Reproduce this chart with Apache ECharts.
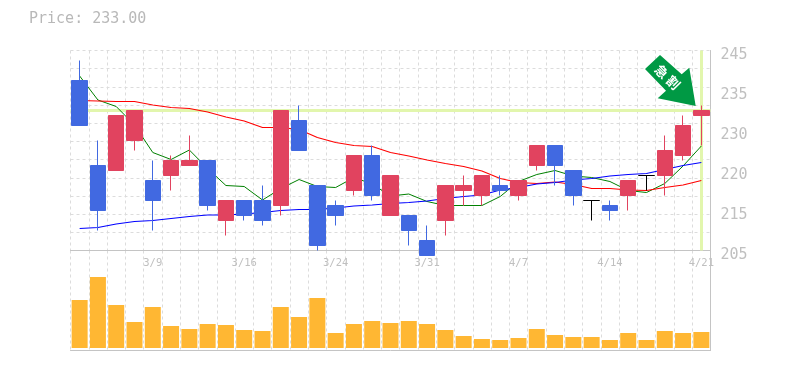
<!DOCTYPE html>
<html><head><meta charset="utf-8">
<style>html,body{margin:0;padding:0;background:#fff}#c{width:785px;height:370px}</style>
<script src="https://cdn.jsdelivr.net/npm/echarts@6/dist/echarts.min.js"></script>
</head><body><div id="c"></div>
<script>
const categories=['3/3','3/4','3/7','3/8','3/9','3/10','3/11','3/14','3/15','3/16','3/17','3/18','3/22','3/23','3/24','3/25','3/28','3/29','3/30','3/31','4/1','4/4','4/5','4/6','4/7','4/8','4/11','4/12','4/13','4/14','4/15','4/18','4/19','4/20','4/21'];
const opens=[239,222,221,227,219,220,222,223,211,215,215,214,231,218,214,217,224,212,212,207,211,217,216,218,216,222,226,221,215,214,216,220,220,224,232];
const closes=[230,213,232,233,215,223,223,214,215,212,211,233,225,206,212,224,216,220,209,204,218,218,220,217,219,226,222,216,215,213,219,220,225,230,233];
const lows=[230,209,221,225,209,217,222,213,208,211,210,212,225,205,210,216,215,212,206,204,208,214,214,216,215,221,218,214,211,211,213,217,216,223,226];
const highs=[243,227,232,233,223,224,228,223,215,215,218,233,234,218,215,224,226,220,212,210,218,220,220,220,219,226,226,221,215,215,219,220,228,232,234];
const maShort=[239.9,235.1,233.8,230.1,224.6,223.2,225.1,221.4,218,217.8,215.1,217.4,219.2,217.8,217.6,219.6,218.3,215.9,216.3,214.8,214,214,214,215.8,218.8,220.2,221,219.9,219.6,218.8,217,216.6,218.4,221.9,225.9];
const maMid=[235,234.9,234.8,234.8,234.1,233.6,233.4,232.7,231.7,230.9,229.6,229.6,229.2,227.6,226.6,226,225.8,224.6,223.9,223.1,222.4,221.8,220.9,219.4,218.6,218.4,218.7,218.2,217.4,217.4,217.1,217,217.6,218.1,219];
const maLong=[209.4,209.6,210.3,210.8,211,211.4,211.8,212.1,212.1,212.3,212.6,213,213.2,213.2,213.5,213.9,214.1,214.4,214.6,214.9,215.4,215.8,216.1,217.1,217.6,218.3,218.6,219.1,219.4,219.9,220.2,220.4,221.2,222,222.6];
const volumes=[48,71,43,26,41,22,19,24,23,18,17,41,31,50,15,24,27,25,27,24,18,12,9,8,10,19,13,11,11,8,15,8,17,15,16];
const priceTicks=[205,213,221,229,237,245];
const priceLabels=['205','215','220','230','235','245'];
const lastPrice=233;
const titleText='Price: 233.00';
const arrowChars=['\u6025','\u5272'];

const MONO='"DejaVu Sans Mono",monospace';
const GRID='#dcdcdc', AXIS='#c4c4c4', TXT='#c0c0c0', LIME='#e2f6ad';
const dash={color:GRID,width:1,type:[3,3]};
const chart=echarts.init(document.getElementById('c'),null,{renderer:'canvas'});
const ohlc=opens.map((o,i)=>[o,closes[i],lows[i],highs[i]]);
const lineS=(name,data,color,z,width)=>({name,type:'line',xAxisIndex:0,yAxisIndex:0,data,symbol:'none',silent:true,z,
  lineStyle:{color,width},clip:false});
chart.setOption({
  animation:false,backgroundColor:'#fff',
  title:{text:titleText,left:24,top:7,textStyle:{fontFamily:MONO,fontSize:15,fontWeight:'normal',color:'#b8b8b8'}},
  grid:[{left:70.5,right:74.5,top:50.5,height:200},{left:70.5,right:74.5,top:250.5,height:100}],
  xAxis:[
    {type:'category',gridIndex:0,data:categories,boundaryGap:true,
     axisLine:{show:true,lineStyle:{color:AXIS,width:1}},axisTick:{show:false},
     axisLabel:{show:true,interval:i=>i%5===4,hideOverlap:false,margin:7,fontFamily:MONO,fontSize:10.5,color:TXT},
     splitLine:{show:true,interval:0,lineStyle:dash}},
    {type:'category',gridIndex:1,data:categories,boundaryGap:true,
     axisLine:{show:true,onZero:false,lineStyle:{color:AXIS,width:1}},axisTick:{show:false},axisLabel:{show:false},
     splitLine:{show:true,interval:0,lineStyle:dash}}
  ],
  yAxis:[
    {type:'value',gridIndex:0,position:'right',min:205,max:245,
     axisLine:{show:true,lineStyle:{color:AXIS,width:1}},axisTick:{show:false},splitLine:{show:false},
     axisLabel:{show:true,customValues:priceTicks,margin:10,verticalAlign:'top',lineHeight:9,fontFamily:MONO,fontSize:15,color:TXT,
       formatter:v=>priceLabels[priceTicks.indexOf(v)]}},
    {type:'value',gridIndex:0,position:'left',min:0,max:11,interval:1,
     axisLine:{show:false},axisTick:{show:false},axisLabel:{show:false},splitLine:{show:true,lineStyle:dash}},
    {type:'value',gridIndex:1,position:'right',min:-2.5,max:97.5,
     axisLine:{show:true,lineStyle:{color:AXIS,width:1}},axisTick:{show:false},axisLabel:{show:false},splitLine:{show:false}}
  ],
  series:[
    {name:'guide',type:'line',xAxisIndex:0,yAxisIndex:0,data:[],z:1,silent:true,
     markLine:{silent:true,z:1,symbol:'none',label:{show:false},animation:false,
       lineStyle:{color:LIME,width:3,type:'solid'},
       data:[{yAxis:lastPrice},{xAxis:categories[categories.length-1]}]}},
    lineS('short',maShort,'#008000',3,1),
    lineS('mid',maMid,'#ff0000',3,1.1),
    lineS('long',maLong,'#0000ff',3,1.1),
    {name:'price',type:'candlestick',xAxisIndex:0,yAxisIndex:0,data:ohlc,barWidth:16,clip:false,z:4,silent:true,
     itemStyle:{color:'#e1435f',color0:'#4169e1',borderColor:'#e1435f',borderColor0:'#4169e1',borderColorDoji:'#000',borderWidth:1}},
    {name:'volume',type:'bar',xAxisIndex:1,yAxisIndex:2,data:volumes,barWidth:16,silent:true,itemStyle:{color:'#ffb733'},z:4}
  ],
  graphic:[
    {type:'polygon',z:20,silent:true,shape:{points:[[660,55],[645,69],[666,90.7],[657.7,98.3],[695.7,106],[689.3,67.7],[681.7,74.3]]},style:{fill:'#009944'}},
    {type:'text',z:21,silent:true,x:661.7,y:71.7,rotation:-Math.PI/4,
     style:{text:arrowChars[0],fill:'#fff',font:'bold 13px "Noto Sans CJK JP"',align:'center',verticalAlign:'middle'}},
    {type:'text',z:21,silent:true,x:673.3,y:82.7,rotation:-Math.PI/4,
     style:{text:arrowChars[1],fill:'#fff',font:'bold 13px "Noto Sans CJK JP"',align:'center',verticalAlign:'middle'}}
  ]
});
</script></body></html>
